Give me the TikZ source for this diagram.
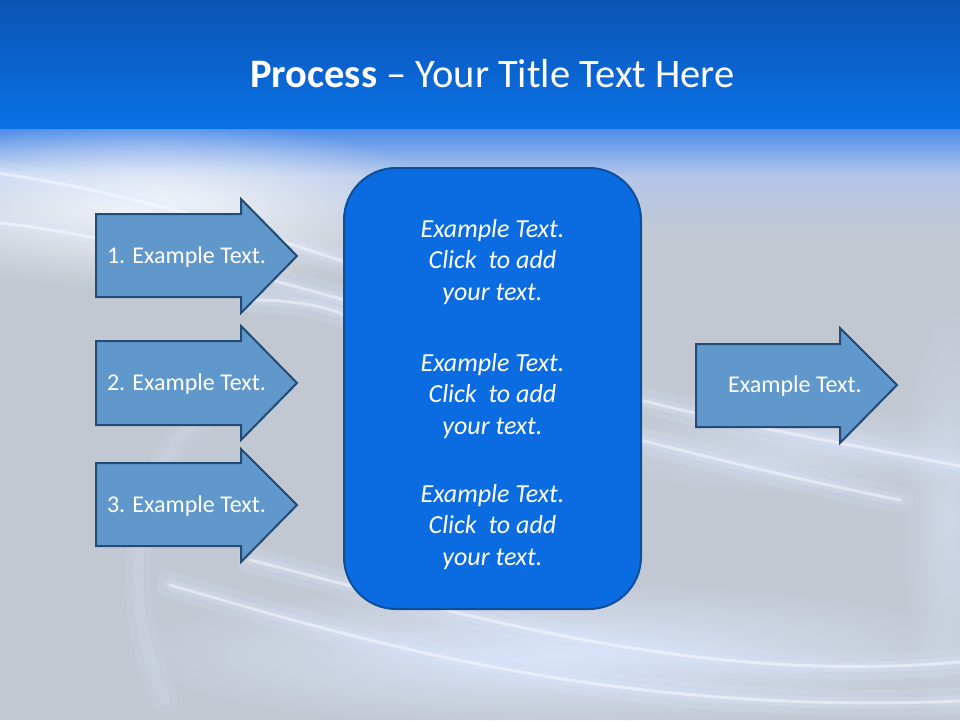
\documentclass[tikz,border=0pt]{standalone}
\usepackage{fontspec}
\setmainfont{Carlito}
\usetikzlibrary{fadings}
\tikzfading[name=softglow, inner color=transparent!0, outer color=transparent!100]
\definecolor{bandtop}{HTML}{0B54B5}
\definecolor{bandbot}{HTML}{0A71E5}
\definecolor{bodygray}{HTML}{C2C8D2}
\definecolor{paleblue}{HTML}{B4C6EA}
\definecolor{midblue}{HTML}{4A8BEA}
\definecolor{arrowfill}{HTML}{6198CC}
\definecolor{arrowline}{HTML}{234B75}
\definecolor{boxfill}{HTML}{0A6CE0}
\definecolor{boxline}{HTML}{0D4F9C}
\definecolor{glowblue}{HTML}{DDE8FF}
\tikzset{
  arrowshape/.style={fill=arrowfill, draw=arrowline, line width=2pt, line join=miter},
  arrowtext/.style={text=white, font=\fontsize{24}{29}\selectfont, anchor=base, inner sep=0pt},
  boxtext/.style={text=white, font=\fontsize{26}{31.5}\selectfont\itshape, align=center, inner sep=0pt},
  glowwide/.style={draw=glowblue, line width=26pt, opacity=0.18, line cap=round},
  glowmid/.style={draw=glowblue, line width=11pt, opacity=0.25, line cap=round},
  glowthin/.style={draw=white, line width=3pt, opacity=0.45, line cap=round},
}
\begin{document}
\begin{tikzpicture}[x=1pt, y=-1pt]
  \useasboundingbox (0,0) rectangle (960,720);
  % background
  \fill[bodygray] (0,0) rectangle (960,720);
  \shade[top color=bandtop, bottom color=bandbot] (0,0) rectangle (960,126);
  \shade[top color=midblue, bottom color=paleblue] (0,127) rectangle (960,176);
  \shade[top color=paleblue, bottom color=bodygray] (0,175) rectangle (960,235);
  \fill[bandbot] (0,120) rectangle (960,129);
  \begin{scope}
    \clip (0,129) rectangle (960,720);
    % soft glows
    \fill[white, opacity=0.85, path fading=softglow] (150,205) ellipse (300 and 85);
    \fill[glowblue, opacity=0.9, path fading=softglow] (560,655) ellipse (440 and 75);
    \fill[glowblue, opacity=0.5, path fading=softglow] (950,520) ellipse (50 and 220);
    \fill[glowblue, opacity=0.5, path fading=softglow] (800,450) ellipse (220 and 45);
    % streaks
    \foreach \s in {glowwide, glowmid, glowthin}{
      \draw[\s] (-10,172) .. controls (120,190) and (250,230) .. (345,262);
      \draw[\s] (-10,222) .. controls (80,230) and (200,260) .. (345,300);
      \draw[\s] (250,300) .. controls (290,300) and (320,305) .. (345,315);
      \draw[\s] (170,585) .. controls (330,630) and (600,720) .. (980,700);
      \draw[\s] (250,560) .. controls (450,610) and (700,690) .. (980,660);
      \draw[\s] (640,400) .. controls (760,430) and (880,450) .. (980,470);
      \draw[\s] (640,440) .. controls (720,460) and (800,480) .. (900,500);
    }
    \draw[glowwide, opacity=0.1] (165,700) .. controls (120,600) and (130,470) .. (200,420);
    \draw[glowmid, opacity=0.15] (165,700) .. controls (120,600) and (130,470) .. (200,420);
  \end{scope}
  % left arrows
  \draw[arrowshape] (96,214) -- (241,214) -- (241,199) -- (297,256) -- (241,313) -- (241,297) -- (96,297) -- cycle;
  \draw[arrowshape] (96,341) -- (241,341) -- (241,326) -- (297,383) -- (241,440) -- (241,425) -- (96,425) -- cycle;
  \draw[arrowshape] (96,463) -- (241,463) -- (241,449) -- (297,505) -- (241,562) -- (241,546) -- (96,546) -- cycle;
  \node[arrowtext] (t1) at (186.5,263) {1. Example Text.};
  \node[arrowtext] (t2) at (186.5,390.5) {2. Example Text.};
  \node[arrowtext] (t3) at (186.5,512.5) {3. Example Text.};
  % right arrow
  \draw[arrowshape] (696,344) -- (840,344) -- (840,328) -- (897,385) -- (840,443) -- (840,427) -- (696,427) -- cycle;
  \node[arrowtext] (t4) at (795,392) {Example Text.};
  % central box
  \node[draw=boxline, line width=2pt, fill=boxfill, rounded corners=52pt, minimum width=297pt, minimum height=441pt, inner sep=0pt] (box) at (492.5,388.5) {};
  \node[boxtext] (b1) at (492.5,262) {Example Text.\\Click\ \ to add\\your text.};
  \node[boxtext] (b2) at (492.5,396) {Example Text.\\Click\ \ to add\\your text.};
  \node[boxtext] (b3) at (492.5,527) {Example Text.\\Click\ \ to add\\your text.};
  % title
  \node[text=white, font=\fontsize{40.5}{48}\selectfont, anchor=base, inner sep=0pt] (title) at (492.5,87) {\textbf{Process} -- Your Title Text Here};
\end{tikzpicture}
\end{document}
